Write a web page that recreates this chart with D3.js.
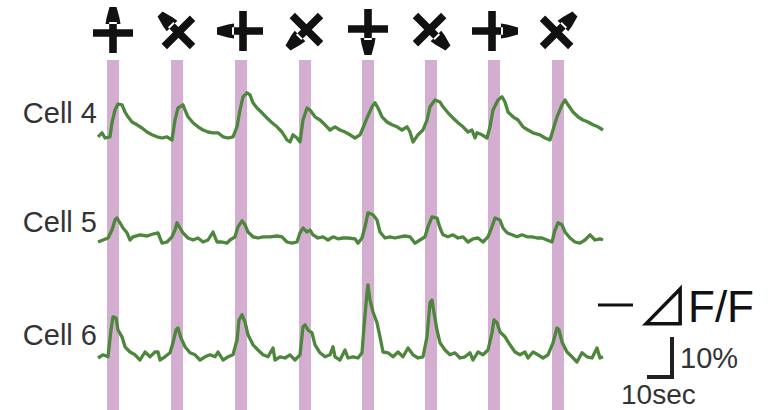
<!DOCTYPE html>
<html>
<head>
<meta charset="utf-8">
<script src="https://cdn.jsdelivr.net/npm/d3@7"></script>
<style>
body { margin: 0; background: #fff; }
text { font-family: "Liberation Sans", Arial, sans-serif; }
</style>
</head>
<body>
<script>
// ---- data (time in sec, dF/F in %) ----
var cellNames = ['Cell 4', 'Cell 5', 'Cell 6'];
var stimOnsets = [4, 29.6, 55.2, 80.8, 106, 131.2, 156.4, 182];
var stimDuration = 4.8;
var stimDirections = [90, 135, 180, 225, 270, 315, 0, 45]; // degrees, 90 = up
var scaleTime = 10;   // sec
var scaleDff = 10;    // %

var cell4 = [[0.4,0.8],[2,1.8],[3.2,0.5],[5.2,0.8],[6,4.3],[7.2,7.5],[8.4,9],[10,8.8],[11.2,7],[12.4,5.8],[14,4.5],[16,3.8],[18,3],[20,2],[22,1.3],[24,0.8],[26,0.5],[28,0.8],[30,0],
  [31.2,5],[32.4,8],[34.4,8.8],[35.2,7.5],[36.4,5.8],[38.4,4.3],[40.4,3.3],[42.4,2.5],[44.4,2],[46.4,1.8],[48.4,1.8],[50.4,0.8],[52.4,0.5],[54.4,0.8],
  [56,3.3],[57.2,7.5],[58.4,10.8],[60,11.8],[61.2,11.3],[62.4,9.3],[64,8],[66,6.8],[68,5.5],[70,4.3],[72,3.3],[74,2],[76,0],[77.2,-0.5],[78.4,1.3],[80,0.5],[81.2,-0.5],
  [82.4,5],[84,8],[85.2,7.5],[87.2,5.8],[89.2,5],[91.2,3.8],[93.2,2.5],[95.2,3.3],[97.2,2.5],[99.2,2],[101.2,1.3],[103.2,0.5],[105.2,1.3],
  [106.4,3],[108,5.5],[110,8.3],[111.2,9.3],[112.4,8],[114,5.8],[116,4.5],[118,3.8],[120,3.3],[122,2.5],[124,3.3],[125.2,2],[126.4,-0.5],[128.4,1.3],[130.4,2.5],
  [132,5],[133.2,8.3],[135.2,10],[137.2,9.5],[138.4,8.3],[140.4,6.8],[142.4,5.5],[144.4,4.3],[146.4,3.3],[148.4,2],[150,2.5],[151.2,0.5],[152,1.8],[154,1.3],[156,0.5],
  [157.2,3.3],[158.4,7.5],[160.4,10],[162,10.8],[163.2,9.5],[164.4,7],[166.4,5.8],[168.4,5],[170.4,3.3],[172.4,2.5],[174.4,1.8],[177.2,1.3],[179.2,0.5],[181.2,0],
  [182.4,2.5],[184,5.8],[186,8.8],[187.2,10],[188.4,8.8],[190.4,7],[192.4,5.8],[194.4,5],[196.4,4.5],[198.4,3.8],[200.4,3.3],[202.4,2.5]];

var cell5 = [[0.4,0],[2.4,0.5],[4.4,1],[6,3],[7.2,5.5],[8,6],[9.2,4.8],[10.4,3.5],[12,2.3],[13.2,0.5],[14.4,1.3],[17.2,1.8],[20,1.5],[22.4,2],[24.4,2.3],[26,-0.3],[28,0],
  [30,1.3],[31.2,3],[32,4.8],[33.2,3.5],[34.4,2.3],[36.4,1],[38.4,0.5],[40.4,1],[42.4,0],[44.4,0.5],[46.4,2.5],[48,0],[50,0],[52,-0.3],[53.2,0.5],
  [55.2,1.3],[56.4,3.8],[58,5.3],[59.2,4.3],[60.4,2.5],[62.4,1.3],[64.4,1],[66.4,1.3],[69.2,1.3],[72,1.5],[74,1.3],[76,0],[78,-0.3],[80,0],
  [81.2,2.3],[82.4,3.5],[84,2.5],[85.2,3],[86.4,1.8],[88.4,1],[90.4,1.3],[92.4,0.5],[94.4,1.3],[96.4,0.8],[98.4,1],[100.4,1],[103.2,0.8],[104.4,-0.3],
  [106,1],[107.2,3.8],[108.4,7.3],[110.4,6.8],[112,5.5],[113.2,2.5],[115.2,1],[117.2,1.3],[119.2,1],[121.2,1.3],[123.2,1.5],[125.2,1.3],[127.2,-0.3],[129.2,0.5],
  [131.2,1.3],[132.4,3.8],[134,6.3],[136,6],[137.2,3.5],[138.4,1.8],[140.4,1.3],[142.4,1.8],[144.4,1],[146.4,1.3],[148.4,0],[150.4,0.8],[152.4,1],[154.4,0],
  [156.4,1.3],[158,3.8],[159.2,6],[161.2,5.5],[162.4,3.5],[164,2.3],[166,1.8],[168,1.3],[170,1.8],[172,1.3],[174,1.3],[176,1],[178,1],[180,0.5],[182,0],
  [183.2,3],[184.4,4.8],[186,4.3],[187.2,2.5],[189.2,1],[191.2,0],[193.2,-0.3],[195.2,0.5],[197.2,1.8],[199.2,0.5],[201.2,0.8],[202.4,0.5]];

var cell6 = [[0.4,0],[2.4,0.8],[4.4,0.3],[5.6,7],[6.4,10.3],[7.6,10],[8.4,7],[10,5.3],[11.2,2.8],[13.2,1.5],[15.2,0.8],[17.2,-0.5],[19.2,1.5],[21.2,0.3],[23.2,1.5],[24.4,1.5],[25.2,-0.5],[27.2,0.3],
  [29.2,1.3],[30.4,3.8],[31.6,7],[32.4,7.5],[33.6,5],[35.2,2.8],[37.2,1.3],[39.2,0.8],[41.2,-0.5],[43.2,0.3],[45.2,0.8],[47.2,0.3],[48.4,1.5],[50.4,-0.5],[52.4,0.3],[54.4,0.8],
  [56,4.5],[56.8,9.5],[58,10.8],[59.2,9],[60.4,5.8],[62.4,3.3],[64.4,2],[66.4,0.8],[68.4,0.3],[70.4,2.5],[71.2,-0.5],[73.2,0.3],[75.2,0],[77.2,0.8],[79.2,-0.5],[81.2,0.8],
  [82.4,7.8],[83.2,8.3],[84.4,7],[86,6.3],[87.2,3.3],[89.2,1.3],[91.2,0.3],[93.2,0.8],[94.4,2.8],[95.2,0.3],[97.2,-0.5],[99.2,2],[100.4,0],[102.4,0.3],[104.4,0],
  [106,1.3],[106.8,7.8],[108,16.3],[108.4,18.3],[109.2,14.5],[110.4,11.5],[112,8.8],[113.2,5.3],[114.4,1.5],[116.4,1.3],[118.4,0.3],[120.4,1.5],[122.4,0.3],[124.4,2.5],[126.4,0.8],[128.4,0],[130.4,0.3],
  [132,5.3],[133.2,13.8],[134,14.5],[134.8,11.3],[136,7],[137.2,3.8],[139.2,2],[141.2,0.8],[143.2,1.3],[145.2,0],[147.2,0.3],[149.2,1.3],[150.4,-0.5],[152.4,1.5],[154.4,0.8],[156.4,2],
  [158,6.3],[158.8,9.5],[160,8.8],[161.2,6.5],[163.2,5.3],[165.2,3.3],[167.2,1.5],[169.2,0.8],[171.2,1.5],[172.4,0],[174.4,1.5],[176.4,0.8],[178.4,0],[180.4,0.8],
  [182.4,3.8],[184,7.5],[184.8,7],[186,4],[188,1.5],[190,0.3],[192,-1],[194,1.3],[196,0.3],[198,0],[200,2.5],[201.2,0],[202.4,0.3]];

var traces = [cell4, cell5, cell6];

// ---- layout ----
var w = 772, h = 410;
var baselines = [140, 242, 358];
var pxPerPct = 4;

var svg = d3.select('body').append('svg')
    .attr('width', w)
    .attr('height', h);

var x = d3.scaleLinear()
    .domain([0, 202.4])
    .range([97, 603]);

// stimulus bars
svg.selectAll('.stim')
    .data(stimOnsets)
    .enter()
    .append('rect')
    .attr('class', 'stim')
    .attr('x', function (d) { return x(d); })
    .attr('width', function (d) { return x(d + stimDuration) - x(d); })
    .attr('y', 60)
    .attr('height', h - 60)
    .style('fill', '#d4aed0');

// direction icons (cross with an arrowhead on one arm)
var iconPath = 'M-20,-3.8H20V3.8H-20Z' +
    'M-3.8,-11H3.8V20H-3.8Z' +
    'M-7.5,-9L7.5,-9L6.5,-15L3.5,-26L-3.5,-26L-6.5,-15Z';

svg.selectAll('.icon')
    .data(stimOnsets)
    .enter()
    .append('path')
    .attr('class', 'icon')
    .attr('d', iconPath)
    .attr('transform', function (d, i) {
        var a = stimDirections[i];
        var rad = a * Math.PI / 180;
        var cx = x(d + stimDuration / 2) - 2 * Math.cos(rad);
        var cy = 31 + 2 * Math.sin(rad);
        return 'translate(' + cx + ',' + cy + ') rotate(' + (90 - a) + ')';
    })
    .style('fill', '#111');

// traces
var line = d3.line()
    .x(function (d) { return x(d[0]); });

traces.forEach(function (trace, i) {
    var y = d3.scaleLinear()
        .domain([0, 10])
        .range([baselines[i], baselines[i] - 10 * pxPerPct]);

    line.y(function (d) { return y(d[1]); });

    svg.append('path')
        .datum(trace)
        .attr('class', 'trace')
        .attr('d', line)
        .style('fill', 'none')
        .style('stroke', '#4c873c')
        .style('stroke-width', 3.3)
        .style('stroke-linejoin', 'round');
});

// cell labels
svg.selectAll('.cellLabel')
    .data(cellNames)
    .enter()
    .append('text')
    .attr('class', 'cellLabel')
    .attr('x', 97)
    .attr('y', function (d, i) { return [123, 232, 345][i]; })
    .attr('text-anchor', 'end')
    .style('font-size', '29px')
    .style('fill', '#333')
    .text(function (d) { return d; });

// legend: line = dF/F
svg.append('line')
    .attr('x1', 598).attr('x2', 633)
    .attr('y1', 305).attr('y2', 305)
    .style('stroke', '#111')
    .style('stroke-width', 3);

svg.append('text')
    .attr('x', 637)
    .attr('y', 326)
    .style('font-family', '"Noto Sans CJK JP", "Noto Sans CJK SC", sans-serif')
    .style('font-size', '52px')
    .style('fill', '#111')
    .text('\u22BF');

svg.append('text')
    .attr('x', 688)
    .attr('y', 322)
    .style('font-size', '44px')
    .style('fill', '#111')
    .text('F/F');

// scale bar
var corner = [672, 377];
var barX = x(scaleTime) - x(0);
var barY = scaleDff * pxPerPct;
svg.append('path')
    .attr('d', 'M' + (corner[0] - barX) + ',' + corner[1] + 'H' + corner[0] + 'V' + (corner[1] - barY))
    .style('fill', 'none')
    .style('stroke', '#231f20')
    .style('stroke-width', 4);

svg.append('text')
    .attr('x', 680)
    .attr('y', 368)
    .style('font-size', '29px')
    .style('fill', '#333')
    .text(scaleDff + '%');

svg.append('text')
    .attr('x', 621)
    .attr('y', 404)
    .style('font-size', '28px')
    .style('fill', '#333')
    .text(scaleTime + 'sec');
</script>
</body>
</html>
